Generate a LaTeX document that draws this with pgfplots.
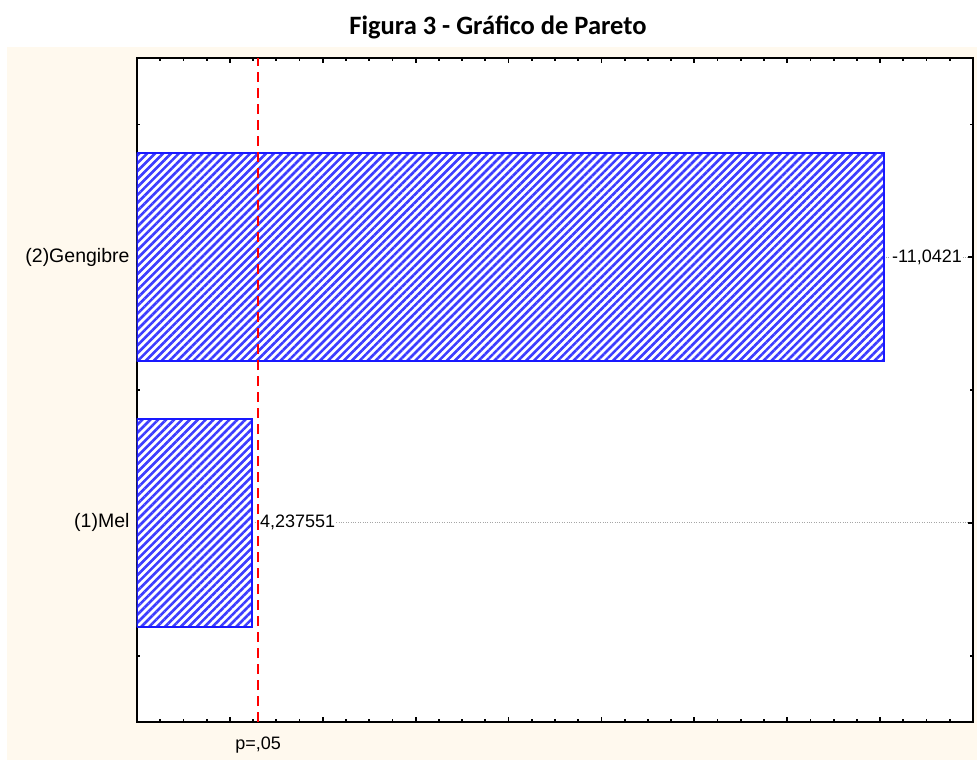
\documentclass[border=0pt]{standalone}
\usepackage{fontspec}
\setmainfont{Liberation Sans}
\newfontfamily\calibri{Carlito}
\usepackage{pgfplots}
\pgfplotsset{compat=1.18}
\usetikzlibrary{patterns.meta}
\definecolor{cream}{RGB}{255,249,238}
\definecolor{barblue}{RGB}{25,25,255}
\begin{document}
\begin{tikzpicture}[x=1pt,y=1pt]
\path[use as bounding box] (0,0) rectangle (977,-760);
\fill[white] (0,0) rectangle (977,-760);
\fill[cream] (7,-47) rectangle (977,-760);
\node[font=\calibri\bfseries\fontsize{26.5}{29}\selectfont] at (498,-27) {Figura 3 - Gráfico de Pareto};
\begin{axis}[
  at={(137pt,-722pt)}, anchor=south west,
  scale only axis, width=836pt, height=664pt,
  xmin=3, xmax=12, ymin=-0.75, ymax=1.75,
  axis background/.style={fill=white},
  axis line style={line width=2.4pt},
  xtick={3,...,12}, xticklabels={},
  minor x tick num=3,
  ytick={0,1}, yticklabels={(1)Mel,(2)Gengibre},
  minor ytick={-0.5,0.5,1.5},
  tick align=inside,
  major tick length=5pt, minor tick length=3pt,
  every tick/.style={black, line width=1.8pt},
  ymajorgrids, major grid style={black!35, dotted, line width=0.8pt},
  tick label style={font=\fontsize{18}{20}\selectfont},
  yticklabel style={font=\fontsize{19.5}{22}\selectfont, xshift=-4pt},
  extra x ticks={4.303}, extra x tick labels={p={,}05},
  extra x tick style={major tick length=0pt, tick label style={yshift=-11pt}},
]
\addplot[xbar, bar width=0.784, draw=barblue, line width=2.2pt, fill=white,
  postaction={pattern={Lines[angle=45,distance=5.6pt,line width=2.6pt]}, pattern color=barblue!85},
  nodes near coords, point meta=explicit symbolic,
  nodes near coords style={font=\fontsize{18}{20}\selectfont, anchor=west, fill=white, inner sep=1pt, xshift=6pt}]
  coordinates {(4.237551,0) [4,237551] (11.0421,1) [-11,0421]};
\addplot[red, line width=2.6pt, dash pattern=on 10pt off 6pt] coordinates {(4.303,-0.75) (4.303,1.75)};
\end{axis}
\end{tikzpicture}
\end{document}
